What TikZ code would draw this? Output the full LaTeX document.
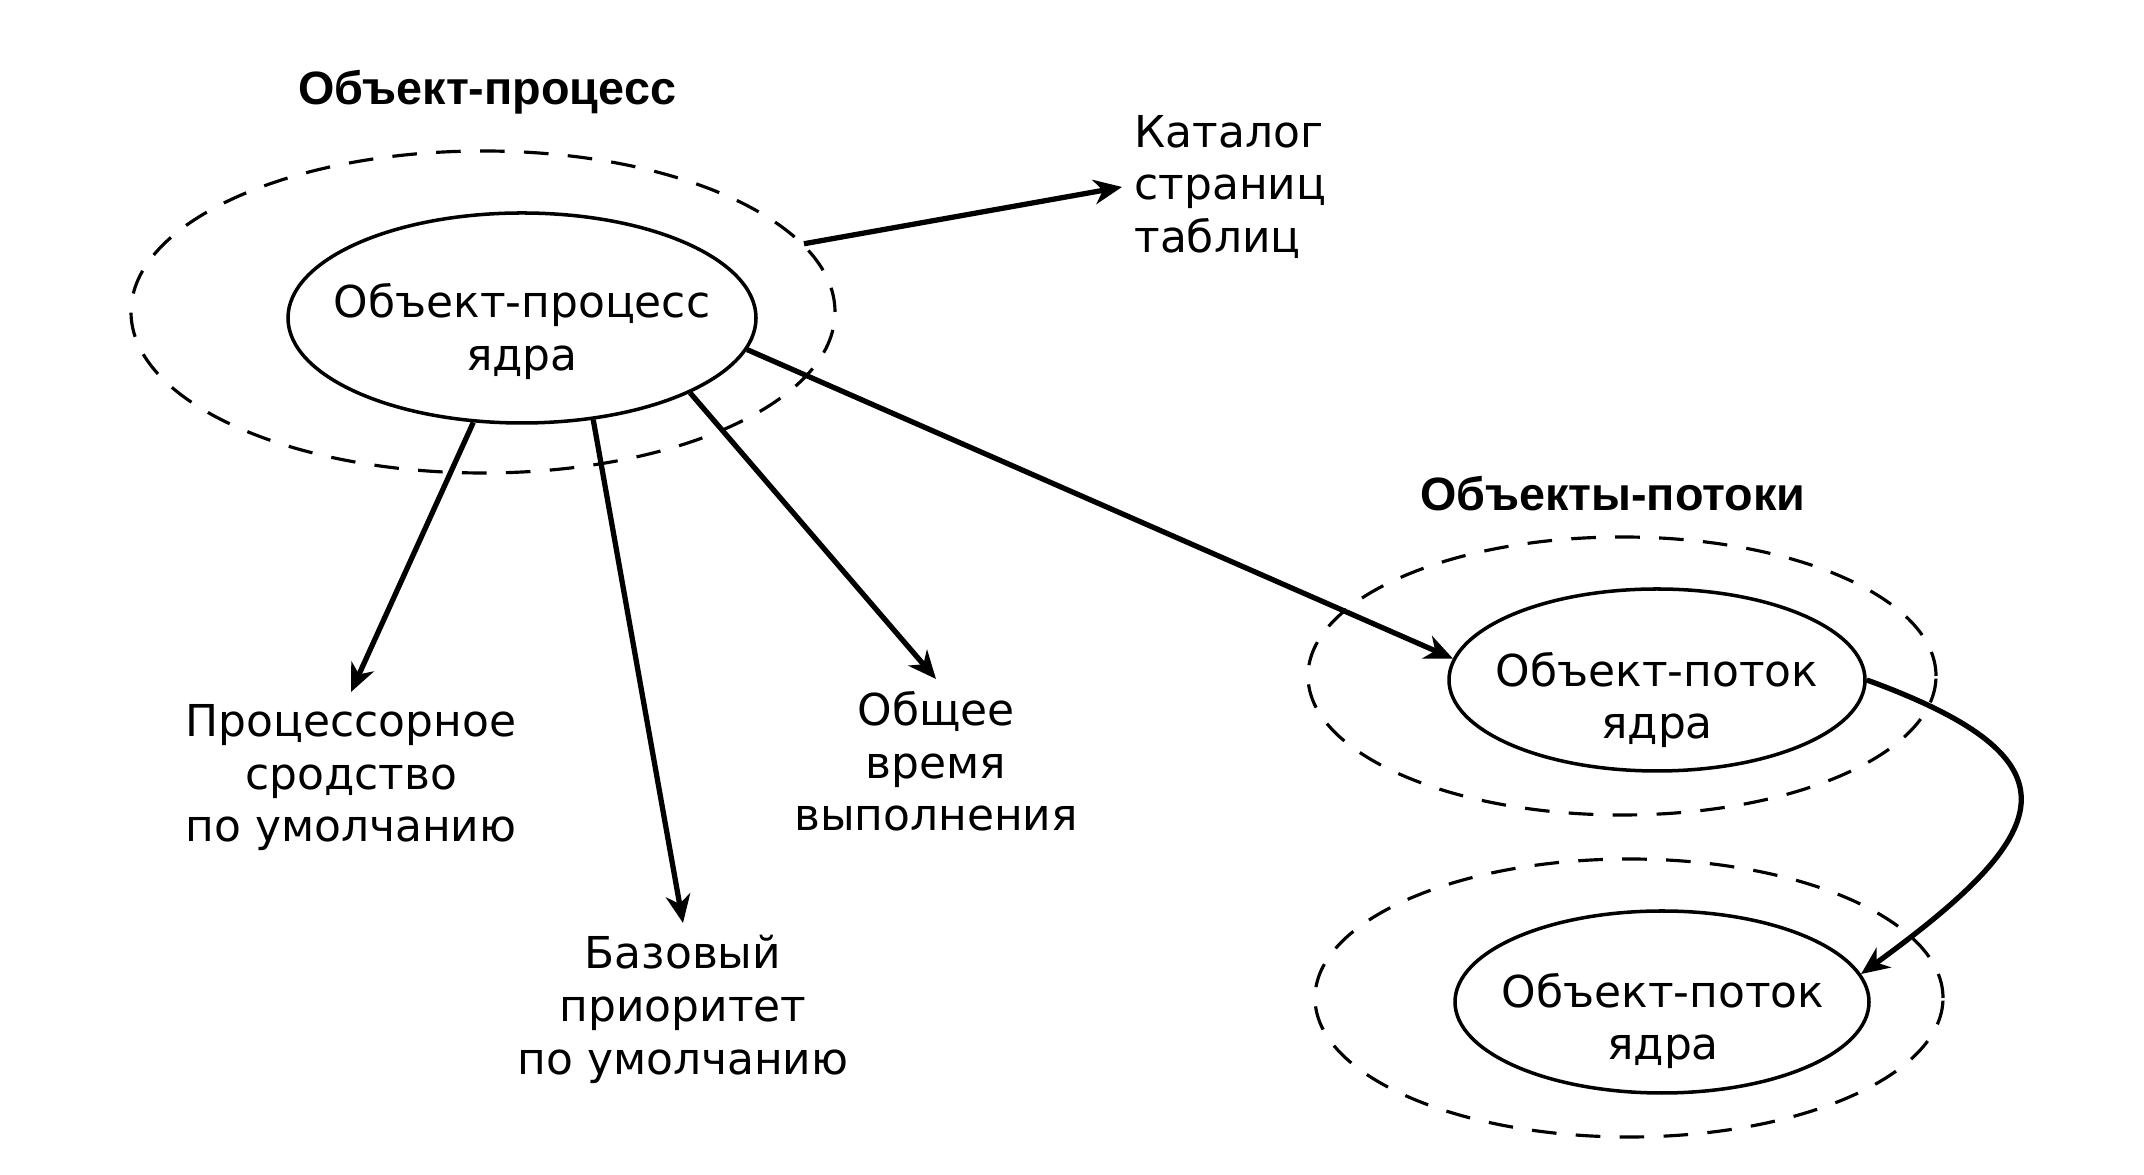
\documentclass[tikz,border=0pt]{standalone}
\usepackage{fontspec}
\setmainfont{DejaVu Sans}
\newfontfamily\headfont{Liberation Sans}
\usetikzlibrary{shapes.geometric}
\usetikzlibrary{arrows.meta}

\begin{document}
\begin{tikzpicture}[
    core/.style={ellipse, draw, line width=1pt, inner sep=0pt},
    shell/.style={ellipse, draw, dash pattern=on 7pt off 5.5pt, line width=0.9pt, inner sep=0pt},
    txt/.style={align=center, font=\fontsize{12.5pt}{15pt}\selectfont},
    head/.style={font=\headfont\bfseries\fontsize{13.3pt}{16pt}\selectfont},
    arr/.style={-{Stealth[length=8pt,width=7pt,inset=2.5pt]}, line width=1.5pt}]
  \useasboundingbox (0,0) rectangle (21.44,11.75);
  % process object
  \node[head] (hp) at (4.87,10.83) {Объект-процесс};
  \node[shell, minimum width=7.04cm, minimum height=3.22cm] (po) at (4.83,8.63) {};
  \node[core, minimum width=4.68cm, minimum height=2.10cm] (pk) at (5.22,8.57) {};
  \node[txt] (pkt) at (5.22,8.435) {Объект-процесс\\ядра};
  % attributes
  \node[txt, align=left, anchor=west] (cat) at (11.22,9.88) {Каталог\\страниц\\таблиц};
  \node[txt, anchor=north] (aff) at (3.51,4.83) {Процессорное\\сродство\\по умолчанию};
  \node[txt, anchor=north] (prio) at (6.83,2.52) {Базовый\\приоритет\\по умолчанию};
  \node[txt, anchor=north] (time) at (9.36,4.96) {Общее\\время\\выполнения};
  % thread objects
  \node[head] (ht) at (16.13,6.81) {Объекты-потоки};
  \node[shell, minimum width=6.28cm, minimum height=2.78cm] (to1) at (16.22,4.99) {};
  \node[core, minimum width=4.16cm, minimum height=1.82cm] (t1) at (16.57,4.95) {};
  \node[txt] (t1t) at (16.57,4.75) {Объект-поток\\ядра};
  \node[shell, minimum width=6.28cm, minimum height=2.78cm] (to2) at (16.29,1.77) {};
  \node[core, minimum width=4.14cm, minimum height=1.82cm] (t2) at (16.62,1.73) {};
  \node[txt] (t2t) at (16.63,1.54) {Объект-поток\\ядра};
  % links
  \draw[arr] (po.12) -- (cat.west);
  \draw[arr] (pk.245) -- (aff.north);
  \draw[arr] (pk.-55) -- (prio.north);
  \draw[arr] (pk.-24) -- (time.north);
  \draw[arr] (pk.-8) -- (t1.174);
  \draw[arr] (t1.east) .. controls +(-20:2.37) and +(36:2.37) .. (t2.8);
\end{tikzpicture}
\end{document}
